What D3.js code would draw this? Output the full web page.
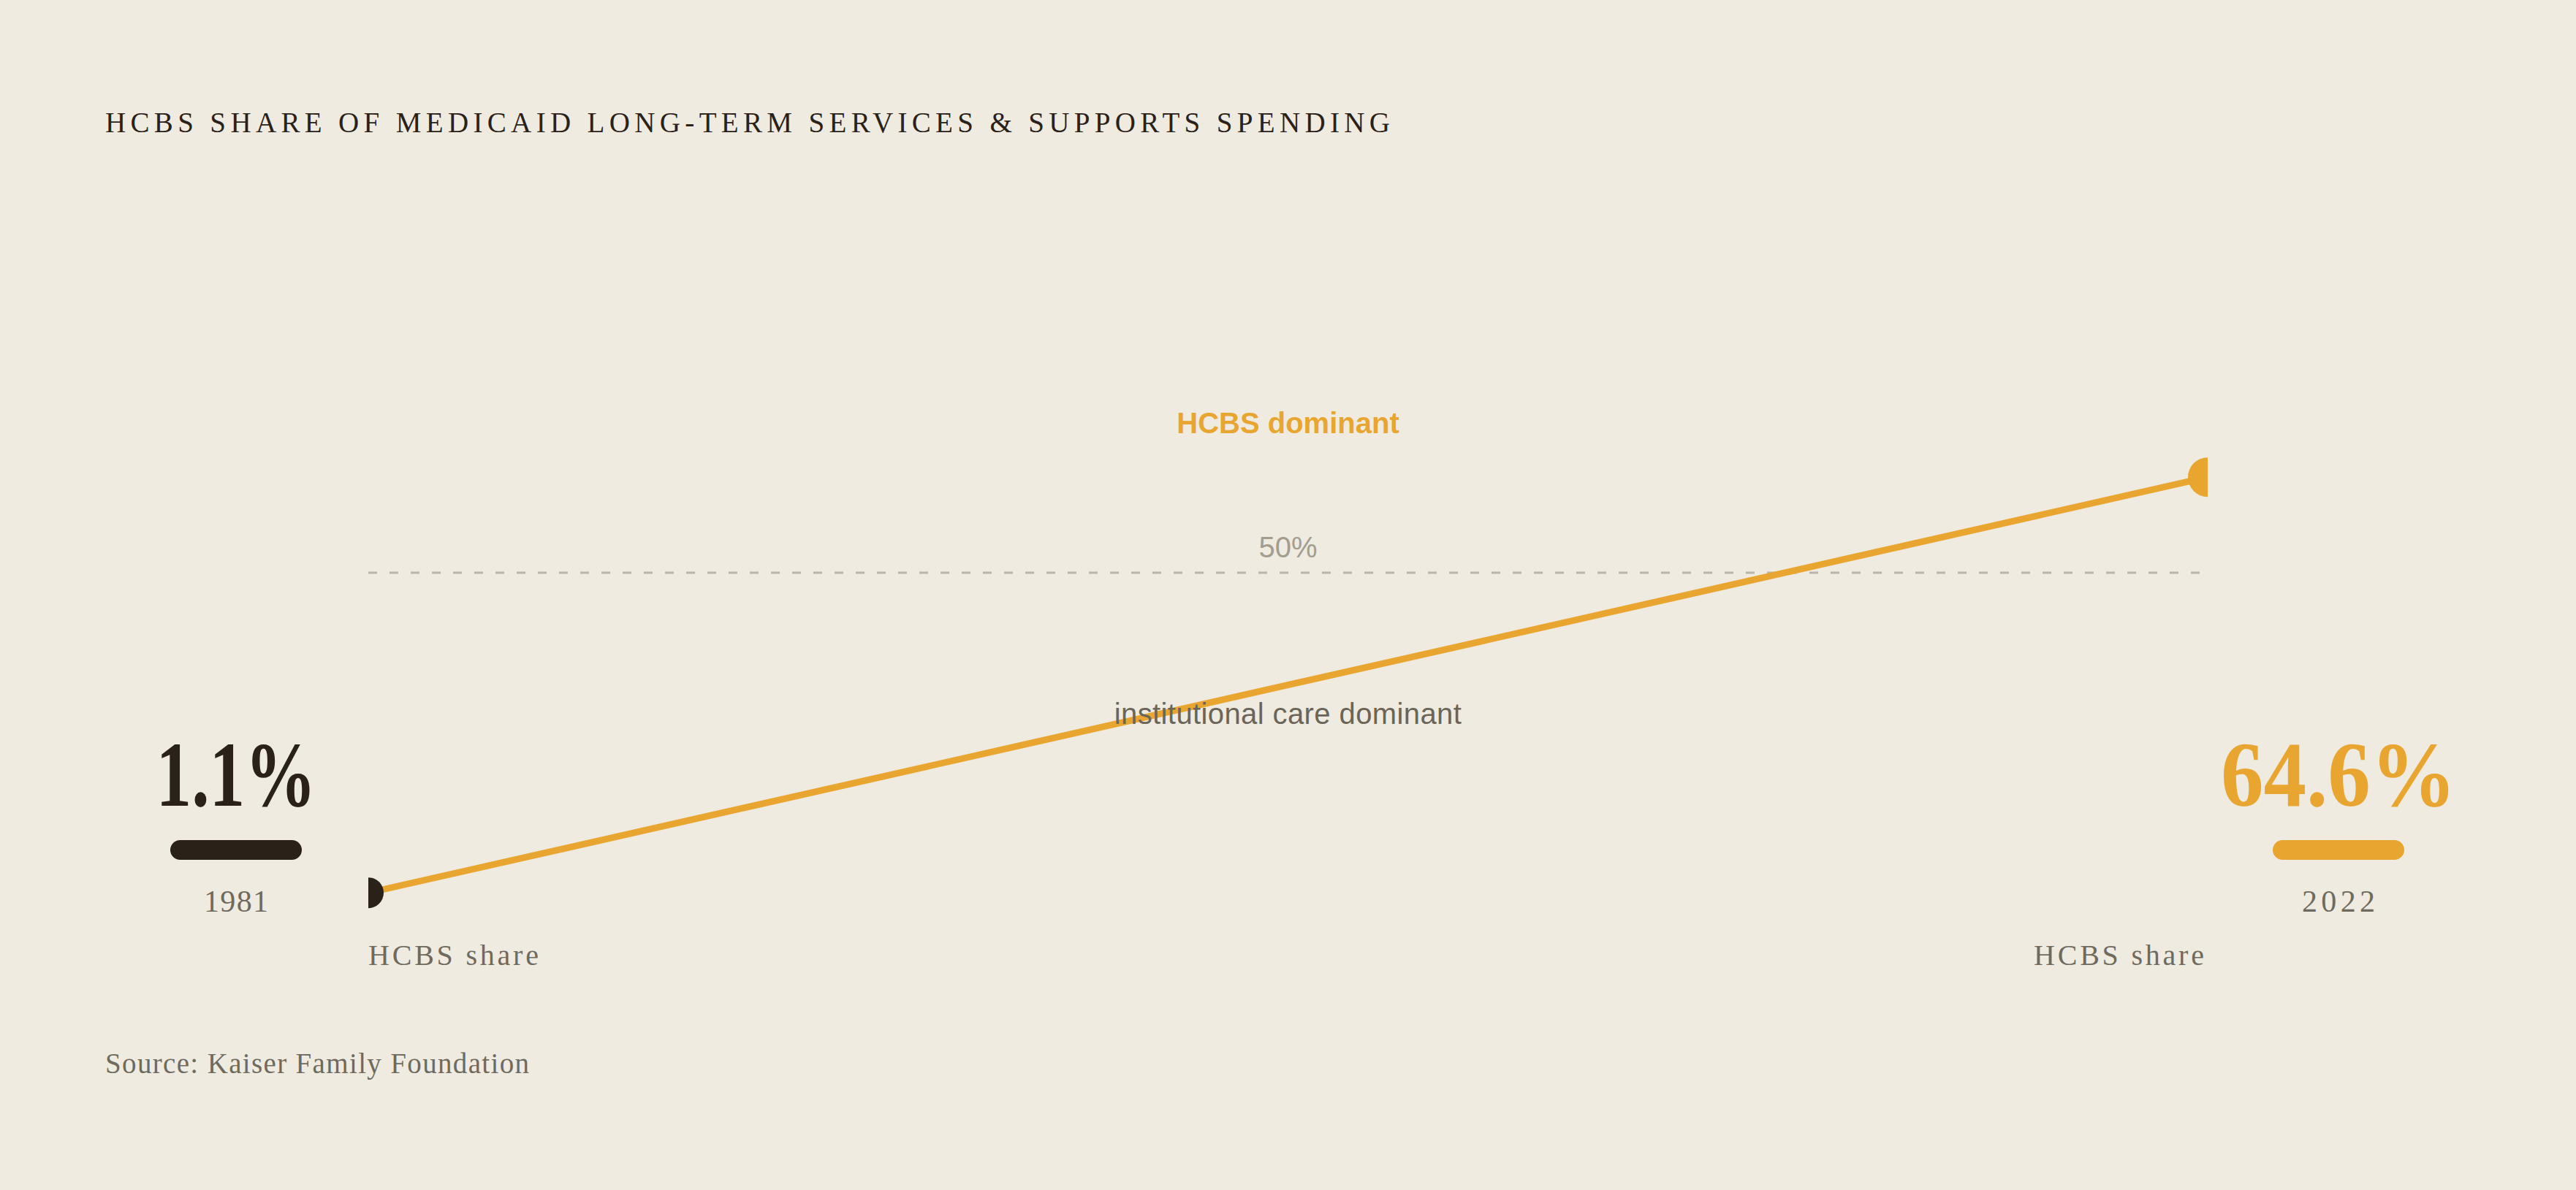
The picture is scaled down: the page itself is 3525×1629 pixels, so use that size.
<!DOCTYPE html>
<html>
<head>
<meta charset="utf-8">
<script src="https://cdn.jsdelivr.net/npm/d3@7"></script>
<style>
  html, body { margin: 0; padding: 0; background: #EFEBE1; }
  svg { display: block; }
</style>
</head>
<body>
<script>
// ---- data ----
const years = [1981, 2022];
const shares = [1.1, 64.6];
const threshold = [50];
const thresholdLabels = ["50%"];
const valueLabels = ["1.1%", "64.6%"];
const yearLabels = ["1981", "2022"];
const seriesLabel = "HCBS share";
const zoneLabels = ["HCBS dominant", "institutional care dominant"];
const titleText = "HCBS SHARE OF MEDICAID LONG-TERM SERVICES & SUPPORTS SPENDING";
const sourceText = "Source: Kaiser Family Foundation";

// ---- layout ----
const W = 3525, H = 1629;
const plot = { left: 504, right: 3021, top: 336, bottom: 1232 };
const serif = "'Liberation Serif', 'Times New Roman', serif";
const sans = "'Liberation Sans', Arial, sans-serif";
const C = { bg: "#EFEBE1", dark: "#2A2118", orange: "#E8A630", gray: "#6F6A5E", light: "#A39D90", dash: "#BAB5AA" };

const x = d3.scaleLinear().domain(d3.extent(years)).range([plot.left, plot.right]);
const y = d3.scaleLinear().domain([0, 100]).range([plot.bottom, plot.top]);

const svg = d3.select("body").append("svg").attr("width", W).attr("height", H);
svg.append("rect").attr("width", W).attr("height", H).attr("fill", C.bg);

svg.append("defs").append("clipPath").attr("id", "plotclip")
  .append("rect").attr("x", plot.left).attr("y", 0)
  .attr("width", plot.right - plot.left).attr("height", H);

function fit(sel, target, adjust) {
  sel.attr("textLength", target).attr("lengthAdjust", adjust || "spacing");
  return sel;
}

// title
fit(svg.append("text").attr("x", 144).attr("y", 181)
  .attr("font-family", serif).attr("font-size", 39).attr("fill", C.dark)
  .text(titleText), 1758);

// zone labels
const midX = (plot.left + plot.right) / 2;
svg.append("text").attr("x", midX).attr("y", 593).attr("text-anchor", "middle")
  .attr("font-family", sans).attr("font-weight", "bold").attr("font-size", 40)
  .attr("fill", C.orange).text(zoneLabels[0]);

svg.append("text").attr("x", midX).attr("y", y(threshold[0]) - 21).attr("text-anchor", "middle")
  .attr("font-family", sans).attr("font-size", 40).attr("fill", C.light)
  .text(thresholdLabels[0]);

const g = svg.append("g").attr("clip-path", "url(#plotclip)");

// threshold line
g.selectAll("line.thr").data(threshold).join("line").attr("class", "thr")
  .attr("x1", plot.left).attr("x2", plot.right)
  .attr("y1", d => y(d)).attr("y2", d => y(d))
  .attr("stroke", C.dash).attr("stroke-width", 3).attr("stroke-dasharray", "12,17");

// series line
const pts = years.map((yr, i) => [yr, shares[i]]);
g.append("path").datum(pts)
  .attr("d", d3.line().x(d => x(d[0])).y(d => y(d[1])))
  .attr("fill", "none").attr("stroke", C.orange).attr("stroke-width", 9);

// endpoint dots
const dotR = [21, 27];
const dotC = [C.dark, C.orange];
g.selectAll("circle.end").data(pts).join("circle").attr("class", "end")
  .attr("cx", d => x(d[0])).attr("cy", d => y(d[1]))
  .attr("r", (d, i) => dotR[i]).attr("fill", (d, i) => dotC[i]);

svg.append("text").attr("x", midX).attr("y", 991).attr("text-anchor", "middle")
  .attr("font-family", sans).attr("font-size", 40).attr("fill", "#6B6558")
  .attr("letter-spacing", 0.4).text(zoneLabels[1]);

// side stats
const statX = [plot.left - 181, plot.right + 179];
const statW = [219, 322];
const yearW = [88, 100];
years.forEach((yr, i) => {
  const col = i === 0 ? C.dark : C.orange;
  fit(svg.append("text").attr("x", statX[i]).attr("y", 1103).attr("text-anchor", "middle")
    .attr("font-family", serif).attr("font-weight", "bold").attr("font-size", 126)
    .attr("fill", col).text(valueLabels[i]), statW[i], "spacingAndGlyphs");
  svg.append("rect").attr("x", statX[i] - 90).attr("y", 1150)
    .attr("width", 180).attr("height", 27).attr("rx", 13.5).attr("fill", col);
  fit(svg.append("text").attr("x", statX[i]).attr("y", 1248).attr("text-anchor", "middle")
    .attr("font-family", serif).attr("font-size", 42).attr("fill", C.gray)
    .text(yearLabels[i]), yearW[i]);
});

// series labels under ends
fit(svg.append("text").attr("x", plot.left).attr("y", 1321)
  .attr("font-family", serif).attr("font-size", 40).attr("fill", C.gray)
  .text(seriesLabel), 233);
fit(svg.append("text").attr("x", plot.right - 238).attr("y", 1321)
  .attr("font-family", serif).attr("font-size", 40).attr("fill", C.gray)
  .text(seriesLabel), 233);

// source
fit(svg.append("text").attr("x", 144).attr("y", 1469)
  .attr("font-family", serif).attr("font-size", 39).attr("fill", C.gray)
  .text(sourceText), 580);
</script>
</body>
</html>
